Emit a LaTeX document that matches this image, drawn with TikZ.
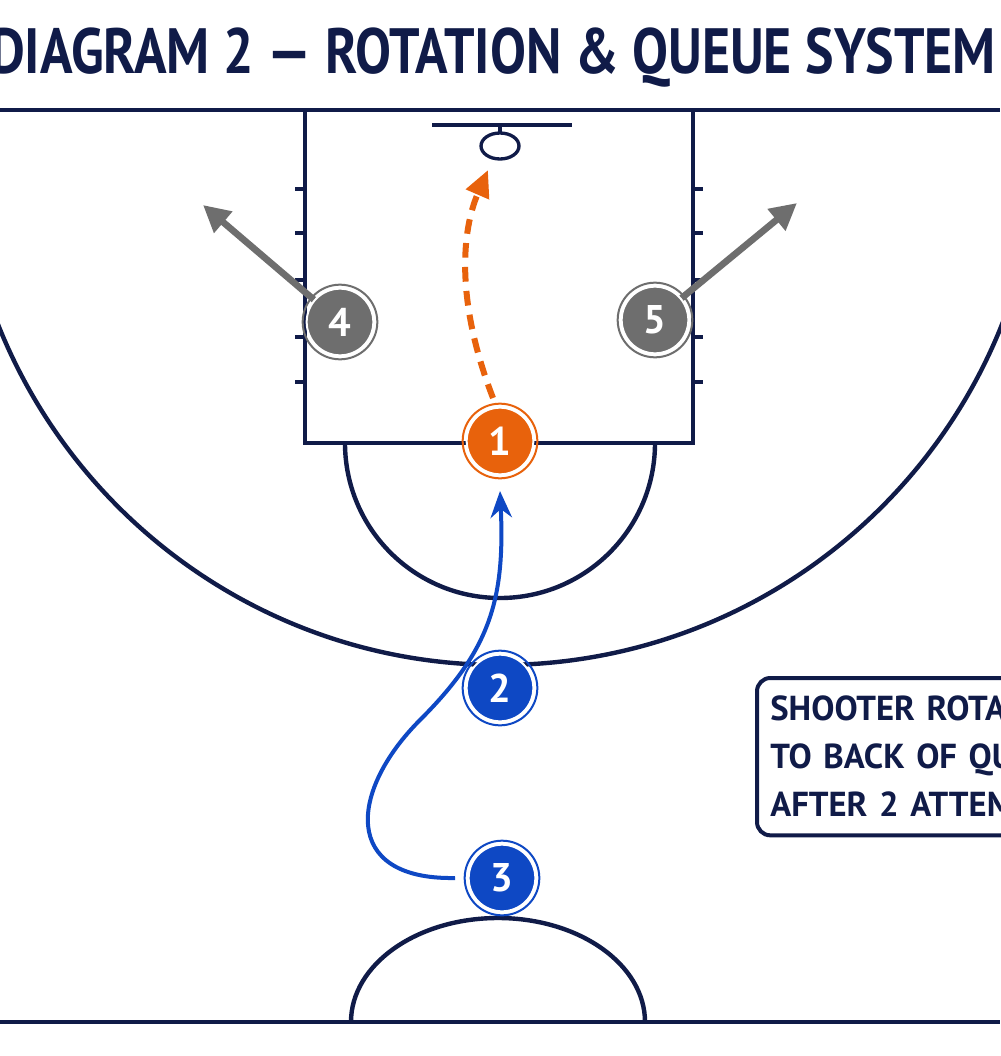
\documentclass[tikz,border=0pt]{standalone}
\usepackage{fontspec}
\setmainfont{PT Sans}
\usepackage{tikz}
\usetikzlibrary{arrows.meta}
\definecolor{navy}{RGB}{16,27,72}
\definecolor{shootorange}{RGB}{232,98,12}
\definecolor{queueblue}{RGB}{14,72,196}
\definecolor{wingrey}{RGB}{110,110,110}
\tikzset{
  court/.style={draw=navy, line width=3.3pt},
  player/.style={circle, draw=white, line width=1.5pt, minimum size=50pt, inner sep=0pt,
    text=white, font=\bfseries\fontsize{30}{30}\selectfont},
  ring/.style={draw, circle, line width=1.5pt, minimum size=56pt, inner sep=0pt},
}
\begin{document}
\begin{tikzpicture}[x=0.75pt,y=0.75pt,yscale=-1,xscale=1]
    \useasboundingbox[fill=white] (0,0) rectangle (1000,1056);

    % Court lines
    \draw [court] (0,110) -- (1000,110) ;
    \draw [court] (0,1022) -- (1000,1022) ;
    \draw [court] (305,110) -- (305,443) -- (693,443) -- (693,110) ;
    \foreach \y in {189,233,280,337,382} {
      \draw [court, line width=2.5pt] (295,\y) -- (305,\y) ;
      \draw [court, line width=2.5pt] (693,\y) -- (703,\y) ;
    }
    % backboard and rim
    \draw [court] (432,125) -- (572,125) ;
    \draw [court, line width=2.5pt] (500,125) -- (500,133) ;
    \draw [court, line width=2.5pt] (500,146) ellipse [x radius=19, y radius=13] ;
    % free throw circle, three point arc, center circle
    \draw [court] (345,443) arc [start angle=180, end angle=0, radius=155] ;
    \draw [court] (-40,125) arc [start angle=180, end angle=0, radius=540] ;
    \draw [court] (351,1022) arc [start angle=180, end angle=360, x radius=147, y radius=104] ;

    % Movement
    \coordinate (rim) at (488,170);
    \coordinate (out4) at (203,205);
    \coordinate (out5) at (797,203);
    \coordinate (curl) at (455,878);
    \coordinate (under1) at (500,491);
    \draw [wingrey, line width=5pt, -{Triangle[length=20pt,width=20pt]}] (340,322) -- (out4) ;
    \draw [wingrey, line width=5pt, -{Triangle[length=20pt,width=20pt]}] (655,320) -- (out5) ;
    \draw [shootorange, line width=4.5pt, dash pattern={on 11pt off 7pt},
      -{Triangle[length=20pt,width=18pt]}] (493,398) .. controls (455,300) and (462,230) .. (rim) ;
    \draw [queueblue, line width=3pt, -{Stealth[length=20pt,width=16pt]}]
      (curl) .. controls (340,880) and (350,790) .. (420,720)
      .. controls (490,650) and (505,600) .. (under1) ;

    % Players
    \node [player, fill=shootorange] (p1) at (500,441) {1};
    \node [player, fill=queueblue] (p2) at (500,688) {2};
    \node [player, fill=queueblue] (p3) at (502,878) {3};
    \node [player, fill=wingrey] (p4) at (340,322) {4};
    \node [player, fill=wingrey] (p5) at (655,320) {5};
    \foreach \p/\c in {p1/shootorange,p2/queueblue,p3/queueblue,p4/wingrey,p5/wingrey}
      \node [ring, draw=\c] at (\p) {};

    % Note box
    \node [draw=navy, line width=3pt, rounded corners=10pt, anchor=north west,
      text width=270pt, minimum height=118pt, align=left, text=navy,
      font=\bfseries\fontsize{26}{36}\selectfont, inner xsep=10pt] (note) at (755,676)
      {SHOOTER ROTATES\\TO BACK OF QUEUE\\AFTER 2 ATTEMPTS};

    % Title
    \node [text=navy, font=\bfseries\fontsize{48}{48}\selectfont, xscale=0.84] (title) at (493,58)
      {DIAGRAM 2 — ROTATION \& QUEUE SYSTEM};
\end{tikzpicture}
\end{document}
